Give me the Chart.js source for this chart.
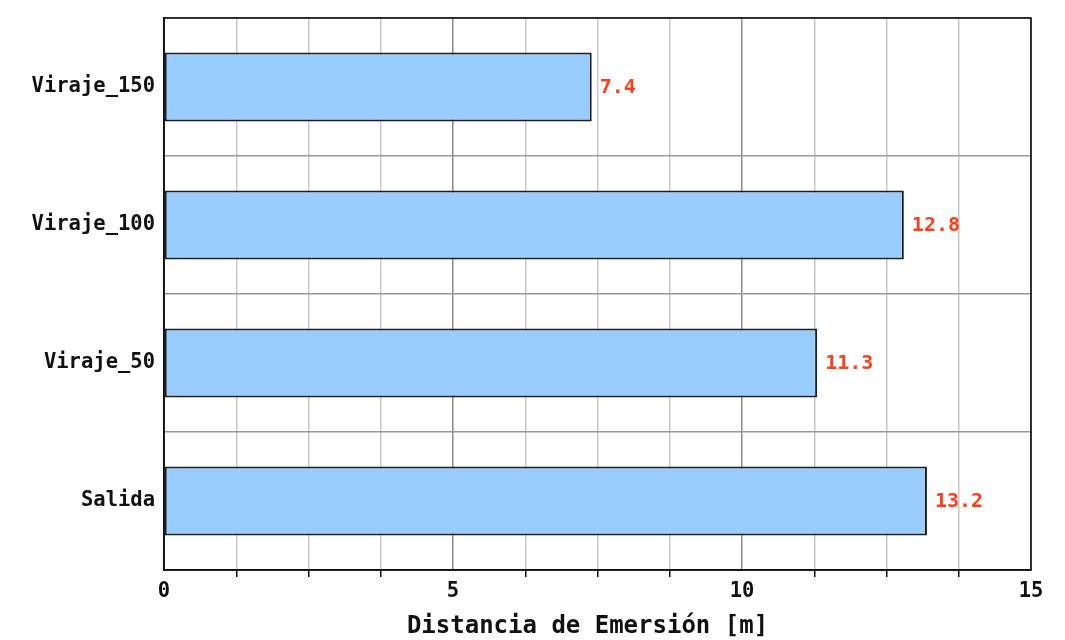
<!DOCTYPE html>
<html>
<head>
<meta charset="utf-8">
<script src="https://cdn.jsdelivr.net/npm/chart.js@4"></script>
<style>
  html, body { margin: 0; padding: 0; background: #fff; }
  #wrap { width: 1065px; height: 640px; }
</style>
</head>
<body>
<div id="wrap"><canvas id="chart" width="1065" height="640"></canvas></div>
<script>
const categories = ["Viraje_150", "Viraje_100", "Viraje_50", "Salida"];
const distances = [7.4, 12.8, 11.3, 13.2];
const x_title = "Distancia de Emersión [m]";

const mono = "'DejaVu Sans Mono', 'Liberation Mono', monospace";

// value at the end of each bar, frame round the plot, and the x title
const bar_values = {
    id: "bar_values",
    afterDatasetsDraw(chart) {
        const ctx = chart.ctx;
        const meta = chart.getDatasetMeta(0);
        ctx.save();
        ctx.font = "bold 20px " + mono;
        ctx.fillStyle = "#ff3d1a";
        ctx.textAlign = "left";
        ctx.textBaseline = "middle";
        meta.data.forEach((bar, i) => {
            ctx.fillText(distances[i].toFixed(1), bar.x + 8, bar.y + 1);
        });
        ctx.restore();
    },
    afterDraw(chart) {
        const a = chart.chartArea;
        const ctx = chart.ctx;
        ctx.save();
        ctx.strokeStyle = "#111";
        ctx.lineWidth = 1.6;
        ctx.strokeRect(a.left, a.top, a.right - a.left, a.bottom - a.top);
        // axis title, sits a bit left of the plot centre like the original
        ctx.font = "bold 24px " + mono;
        ctx.fillStyle = "#111";
        ctx.textAlign = "center";
        ctx.textBaseline = "middle";
        ctx.fillText(x_title, (a.left + a.right) / 2 - 10, 627);
        ctx.restore();
    },
};

const is_major = (v) => Math.abs(v % 5) < 1e-6;

new Chart(document.getElementById("chart"), {
    type: "bar",
    data: {
        labels: categories,
        datasets: [
            {
                data: distances,
                backgroundColor: "#99ccff",
                borderColor: "#1e1e1e",
                borderWidth: 2,
                borderSkipped: false,
                categoryPercentage: 1.0,
                barPercentage: 0.5,
            },
        ],
    },
    options: {
        indexAxis: "y",
        responsive: false,
        animation: false,
        layout: { padding: { top: 18, right: 34, left: 0, bottom: 0 } },
        plugins: {
            legend: { display: false },
            tooltip: { enabled: false },
        },
        scales: {
            x: {
                min: 0,
                max: 15,
                afterFit: (scale) => { scale.height = 70; },
                ticks: {
                    stepSize: 1.25,
                    autoSkip: false,
                    maxRotation: 0,
                    padding: 2,
                    color: "#111",
                    font: { family: mono, size: 20.5, weight: "bold" },
                    callback: (value) => (is_major(value) ? String(value) : ""),
                },
                grid: {
                    color: (c) => (c.tick && is_major(c.tick.value) ? "#8c8c8c" : "#c8c8c8"),
                    lineWidth: 1.5,
                    tickLength: 7,
                    tickColor: (c) => (c.tick && is_major(c.tick.value) ? "rgba(0,0,0,0)" : "#111"),
                    tickWidth: 1.5,
                },
                border: { color: "#111", width: 1.6 },
            },
            y: {
                afterFit: (scale) => {
                    scale.width = 164;
                    scale.paddingTop = 0;
                    scale.paddingBottom = 0;
                },
                ticks: {
                    padding: 9,
                    color: "#111",
                    font: { family: mono, size: 20.5, weight: "bold" },
                },
                grid: {
                    offset: true,
                    color: "#999",
                    lineWidth: 1.5,
                    drawTicks: false,
                },
                border: { color: "#111", width: 1.6 },
            },
        },
    },
    plugins: [bar_values],
});
</script>
</body>
</html>
